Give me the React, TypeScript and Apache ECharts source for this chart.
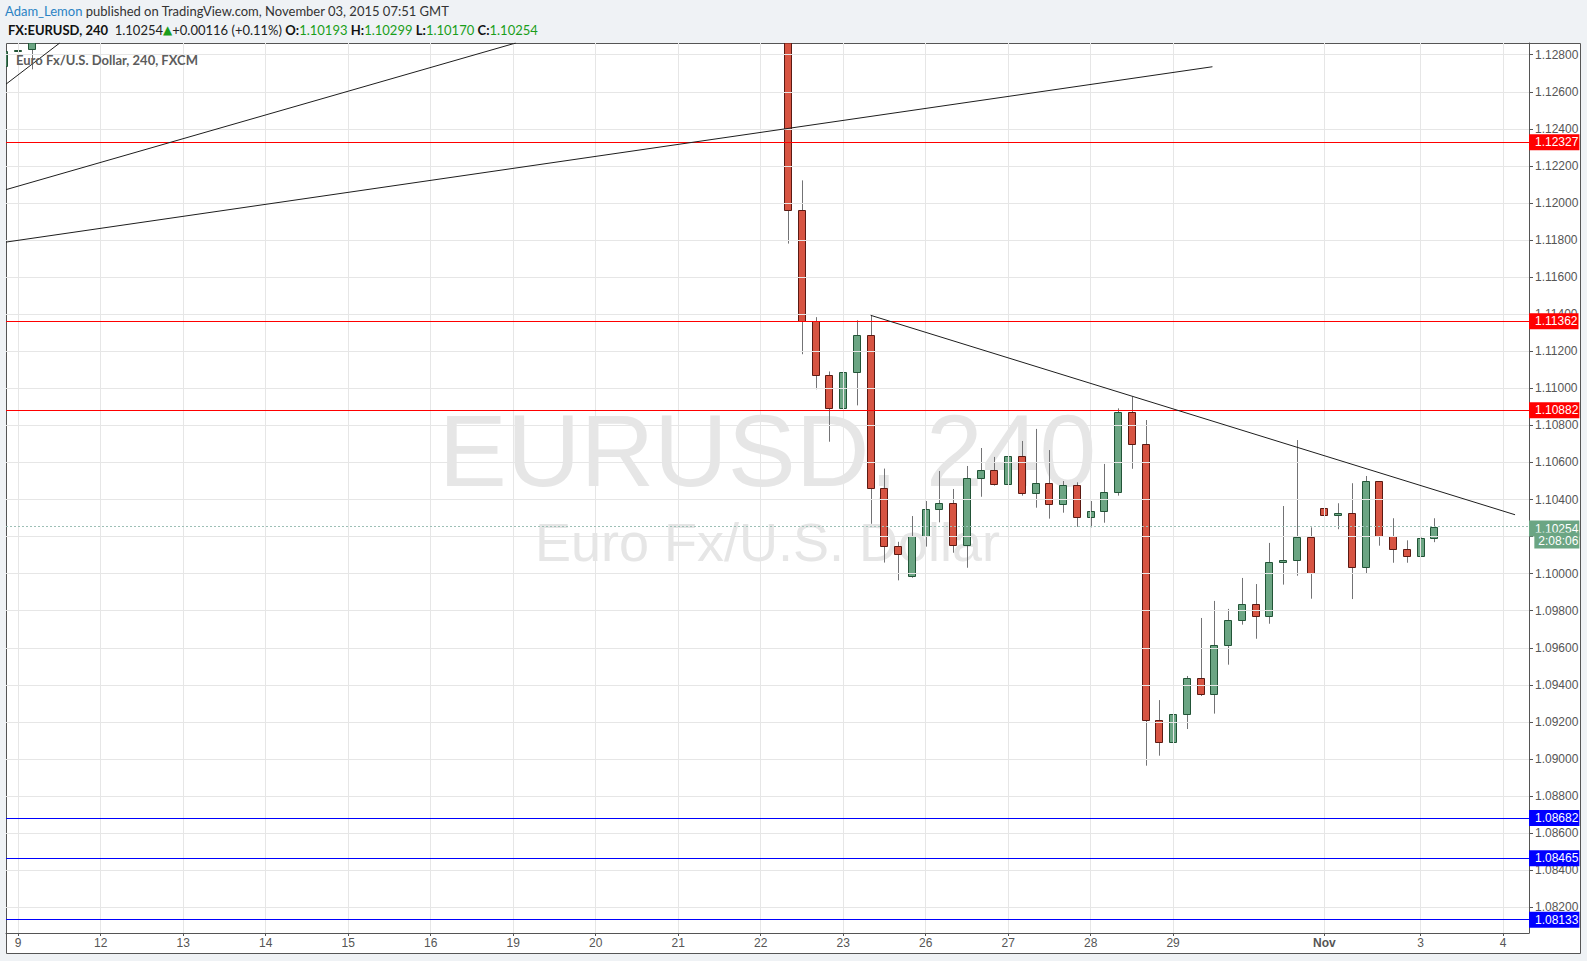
import React, { useEffect, useRef } from "react";
import * as echarts from "echarts";

// ---- data (bar index = 4h bar counted from the Oct 9 label) ----
const barIdx = [-1, 0, 1, 56, 57, 58, 59, 60, 61, 62, 63, 64, 65, 66, 67, 68, 69, 70, 71, 72, 73, 74, 75, 76, 77, 78, 79, 80, 81, 82, 83, 84, 85, 86, 87, 88, 89, 90, 91, 92, 93, 94, 95, 96, 97, 98, 99, 100, 101, 102, 103];
const opens = [1.12739, 1.1282, 1.12829, 1.1338, 1.1196, 1.11361, 1.11072, 1.10894, 1.11087, 1.11288, 1.10463, 1.10147, 1.09988, 1.10202, 1.10349, 1.1038, 1.10153, 1.10515, 1.10558, 1.10482, 1.10633, 1.10434, 1.10488, 1.10374, 1.10477, 1.10304, 1.10337, 1.10439, 1.10871, 1.10698, 1.09209, 1.0909, 1.09243, 1.09436, 1.09349, 1.09614, 1.09749, 1.09835, 1.0977, 1.10061, 1.10072, 1.10196, 1.10353, 1.10315, 1.10326, 1.10034, 1.10498, 1.10202, 1.10132, 1.10094, 1.10193];
const highs = [1.1283, 1.129, 1.13, 1.1345, 1.12122, 1.11384, 1.11091, 1.11191, 1.11367, 1.11394, 1.10567, 1.10172, 1.10311, 1.10392, 1.10554, 1.10457, 1.10581, 1.10678, 1.1063, 1.10689, 1.10716, 1.10781, 1.10667, 1.105, 1.10493, 1.10392, 1.10592, 1.10892, 1.10955, 1.10829, 1.09318, 1.0934, 1.09448, 1.09761, 1.09853, 1.0981, 1.09977, 1.09944, 1.10166, 1.10365, 1.10721, 1.1025, 1.10374, 1.1038, 1.10488, 1.10527, 1.10498, 1.10299, 1.1018, 1.10195, 1.10299];
const lows = [1.1272, 1.12667, 1.12721, 1.11781, 1.11184, 1.10995, 1.10712, 1.10894, 1.10908, 1.10269, 1.1006, 1.09964, 1.09978, 1.10146, 1.10277, 1.10113, 1.10032, 1.10415, 1.10475, 1.10448, 1.10421, 1.10356, 1.10297, 1.10329, 1.10253, 1.1025, 1.10275, 1.10421, 1.10566, 1.08964, 1.09018, 1.09072, 1.09162, 1.0934, 1.09245, 1.09509, 1.09725, 1.09649, 1.0973, 1.09941, 1.09989, 1.09865, 1.10173, 1.1024, 1.09863, 1.09999, 1.10151, 1.10059, 1.10059, 1.10094, 1.1017];
const closes = [1.1282, 1.12828, 1.1295, 1.1196, 1.11361, 1.11072, 1.10894, 1.11087, 1.11288, 1.10463, 1.10147, 1.10105, 1.10203, 1.10349, 1.1038, 1.10153, 1.10515, 1.10558, 1.10482, 1.10633, 1.10434, 1.10488, 1.10374, 1.10477, 1.10304, 1.10337, 1.10439, 1.10871, 1.10698, 1.09209, 1.0909, 1.09243, 1.09436, 1.09349, 1.09614, 1.09749, 1.09835, 1.0977, 1.10061, 1.10072, 1.10196, 1.10002, 1.10315, 1.10326, 1.10034, 1.10498, 1.10202, 1.10132, 1.10094, 1.10193, 1.10254];

const dayTickIdx = [0, 6, 12, 18, 24, 30, 36, 42, 48, 54, 60, 66, 72, 78, 84, 95, 102, 108];
const dayTickLabels = ["9", "12", "13", "14", "15", "16", "19", "20", "21", "22", "23", "26", "27", "28", "29", "Nov", "3", "4"];

const priceTicks = [1.082, 1.084, 1.086, 1.088, 1.09, 1.092, 1.094, 1.096, 1.098, 1.1, 1.102, 1.104, 1.106, 1.108, 1.11, 1.112, 1.114, 1.116, 1.118, 1.12, 1.122, 1.124, 1.126, 1.128];

const redLevels = [1.12327, 1.11362, 1.10882];
const blueLevels = [1.08682, 1.08465, 1.08133];
const lastPrice = 1.10254;
const countdown = "2:08:06";

// trend lines: [barIndex, price] pairs
const trendA = [[-0.887, 1.12072], [36.19, 1.128631]];
const trendB = [[-0.887, 1.12641], [3.02, 1.128631]];
const trendC = [[-0.887, 1.11789], [86.86, 1.12735]];
const trendD = [[62, 1.11394], [108.87, 1.10318]];

// visible window
const X_MIN = -0.887;
const X_MAX = 109.884;
const Y_MIN = 1.080614;
const Y_MAX = 1.128631;

const AX_FONT = 'Arial, "Liberation Sans", sans-serif';
const HDR_FONT = 'Lato, "Open Sans", sans-serif';
const UP = "#6ba583";
const DOWN = "#d75442";

export default function App() {
  const ref = useRef<HTMLDivElement>(null);
  useEffect(() => {
    const chart = echarts.init(ref.current!, null, { renderer: "svg" });
    const candleData = barIdx.map((x, k) => [x, opens[k], closes[k], lows[k], highs[k]]);

    const levelLabel = (bg: string, v: number) => ({
      show: true,
      position: "end",
      distance: 0,
      formatter: v.toFixed(5),
      color: "#fff",
      backgroundColor: bg,
      padding: [2, 1, 2, 6],
      fontSize: 12,
      lineHeight: 12,
      fontFamily: AX_FONT,
    });

    const trendSeries = (data: number[][]) => ({
      type: "line",
      data,
      z: 6,
      silent: true,
      showSymbol: false,
      symbol: "none",
      clip: true,
      lineStyle: { color: "#1e1e1e", width: 1 },
    });

    const option: any = {
      animation: false,
      backgroundColor: "#eff2f5",
      grid: { left: 6, right: 58, top: 43, bottom: 28, containLabel: false, outerBoundsMode: "none" },
      xAxis: {
        type: "value",
        min: X_MIN,
        max: X_MAX,
        axisLine: { show: true, onZero: false, lineStyle: { color: "#555", width: 1 } },
        axisTick: { show: true, length: 3, customValues: dayTickIdx, lineStyle: { color: "#555" } },
        axisLabel: {
          customValues: dayTickIdx,
          color: "#555",
          fontSize: 12,
          fontFamily: AX_FONT,
          margin: 4,
          formatter: (v: number) => {
            const k = dayTickIdx.indexOf(v);
            const s = k >= 0 ? dayTickLabels[k] : "";
            return s === "Nov" ? "{b|Nov}" : s;
          },
          rich: { b: { fontWeight: "bold", color: "#555", fontSize: 12, fontFamily: AX_FONT } },
        },
        splitLine: { show: false },
      },
      yAxis: {
        type: "value",
        position: "right",
        min: Y_MIN,
        max: Y_MAX,
        axisLine: { show: true, onZero: false, lineStyle: { color: "#555", width: 1 } },
        axisTick: { show: true, length: 4, customValues: priceTicks, lineStyle: { color: "#555" } },
        axisLabel: {
          customValues: priceTicks,
          color: "#555",
          fontSize: 12,
          fontFamily: AX_FONT,
          margin: 6,
          formatter: (v: number) => v.toFixed(5),
        },
        splitLine: { show: false },
      },
      graphic: [
        {
          type: "rect",
          z: -1,
          silent: true,
          shape: { x: 6.5, y: 43.5, width: 1574, height: 910 },
          style: { fill: "#ffffff", stroke: "#555", lineWidth: 1 },
        },
        {
          type: "text",
          z: 0,
          silent: true,
          x: 767.5,
          y: 451,
          style: {
            text: "EURUSD, 240",
            fontSize: 102,
            fontFamily: AX_FONT,
            fill: "#e6e6e6",
            align: "center",
            verticalAlign: "middle",
            textAlign: "center",
            textVerticalAlign: "middle",
          },
        },
        {
          type: "text",
          z: 0,
          silent: true,
          x: 767.5,
          y: 542,
          style: {
            text: "Euro Fx/U.S. Dollar",
            fontSize: 54,
            fontFamily: AX_FONT,
            fill: "#e6e6e6",
            align: "center",
            verticalAlign: "middle",
            textAlign: "center",
            textVerticalAlign: "middle",
          },
        },
        {
          type: "text",
          z: 20,
          silent: true,
          x: 5,
          y: 11,
          style: {
            text: "{u|Adam_Lemon} {t|published on TradingView.com, November 03, 2015 07:51 GMT}",
            verticalAlign: "middle",
            textVerticalAlign: "middle",
            fontSize: 13,
            fontFamily: HDR_FONT,
            fill: "#333",
            rich: {
              u: { fill: "#2a82c4", fontSize: 13, fontFamily: HDR_FONT },
              t: { fill: "#333", fontSize: 13, fontFamily: HDR_FONT },
            },
          },
        },
        {
          type: "text",
          z: 20,
          silent: true,
          x: 8,
          y: 29.5,
          style: {
            text:
              "{b|FX:EURUSD, 240}  {n|1.10254}{g|▲}{n|+0.00116 (+0.11%)} {b|O:}{v|1.10193} {b|H:}{v|1.10299} {b|L:}{v|1.10170} {b|C:}{v|1.10254}",
            verticalAlign: "middle",
            textVerticalAlign: "middle",
            fontSize: 13,
            fontFamily: HDR_FONT,
            fill: "#222",
            rich: {
              b: { fill: "#111", fontSize: 13, fontWeight: "bold", fontFamily: HDR_FONT },
              n: { fill: "#222", fontSize: 13, fontFamily: HDR_FONT },
              g: { fill: "#1a9e1a", fontSize: 12, fontFamily: "DejaVu Sans, sans-serif" },
              v: { fill: "#1a9e1a", fontSize: 13, fontFamily: HDR_FONT },
            },
          },
        },
        {
          type: "text",
          z: 20,
          silent: true,
          x: 16,
          y: 60,
          style: {
            text: "Euro Fx/U.S. Dollar, 240, FXCM",
            verticalAlign: "middle",
            textVerticalAlign: "middle",
            fontSize: 13,
            fontWeight: "bold",
            fontFamily: HDR_FONT,
            fill: "#5c5c5c",
          },
        },
      ],
      series: [
        {
          type: "line",
          name: "grid",
          data: [],
          z: 1,
          silent: true,
          markLine: {
            silent: true,
            animation: false,
            precision: 6,
            symbol: ["none", "none"],
            label: { show: false },
            lineStyle: { color: "#e6e6e6", width: 1, type: "solid" },
            emphasis: { disabled: true },
            data: [
              ...dayTickIdx.map((v) => ({ xAxis: v })),
              ...priceTicks.map((v) => ({ yAxis: v })),
            ],
          },
        },
        {
          type: "custom",
          name: "EURUSD",
          z: 3,
          clip: true,
          silent: true,
          data: candleData,
          encode: { x: 0, y: [1, 2, 3, 4] },
          renderItem: (params: any, api: any) => {
            const x = api.value(0);
            const o = api.value(1);
            const c = api.value(2);
            const l = api.value(3);
            const h = api.value(4);
            const pO = api.coord([x, o]);
            const pC = api.coord([x, c]);
            const pL = api.coord([x, l]);
            const pH = api.coord([x, h]);
            const cs = params.coordSys;
            const up = c >= o;
            const cx = Math.round(pO[0]) + 0.5;
            const yT = Math.round(Math.min(pO[1], pC[1])) + 0.5;
            const yB = Math.max(Math.round(Math.max(pO[1], pC[1])) + 0.5, yT + 1);
            const children: any[] = [];
            const wT = Math.max(pH[1], cs.y);
            const wB = Math.min(pL[1], cs.y + cs.height);
            if (cx >= cs.x && cx <= cs.x + cs.width && wB > wT) {
              children.push({
                type: "line",
                shape: { x1: cx, y1: wT, x2: cx, y2: wB },
                style: { stroke: "#737375", lineWidth: 1 },
              });
            }
            const body = echarts.graphic.clipRectByRect(
              { x: cx - 4, y: yT, width: 7, height: yB - yT },
              { x: cs.x, y: cs.y, width: cs.width, height: cs.height }
            );
            if (body) {
              children.push({
                type: "rect",
                shape: body,
                style: { fill: up ? UP : DOWN, stroke: up ? "#225437" : "#5b1a13", lineWidth: 1 },
              });
            }
            return { type: "group", children };
          },
        },
        {
          type: "line",
          name: "levels",
          data: [],
          z: 5,
          silent: true,
          markLine: {
            silent: true,
            animation: false,
            precision: 6,
            symbol: ["none", "none"],
            emphasis: { disabled: true },
            data: [
              ...redLevels.map((v) => ({
                yAxis: v,
                lineStyle: { color: "#ff0000", width: 1, type: "solid" },
                label: levelLabel("#ff0000", v),
              })),
              ...blueLevels.map((v) => ({
                yAxis: v,
                lineStyle: { color: "#0000ff", width: 1, type: "solid" },
                label: levelLabel("#0000ff", v),
              })),
              {
                yAxis: lastPrice,
                lineStyle: { color: "#9dbfb6", width: 1, type: [2, 2] },
                label: {
                  show: true,
                  position: "end",
                  distance: 0,
                  padding: [16, 0, 0, 0],
                  formatter: "{a|" + lastPrice.toFixed(5) + "}\n{b|" + countdown + "}",
                  rich: {
                    a: { color: "#fff", backgroundColor: UP, padding: [2, 1, 2, 6], fontSize: 12, lineHeight: 12, fontFamily: AX_FONT },
                    b: { color: "#fff", backgroundColor: UP, padding: [2, 1, 2, 4], fontSize: 12, lineHeight: 12, fontFamily: AX_FONT, align: "right" },
                  },
                },
              },
            ],
          },
        },
        trendSeries(trendA),
        trendSeries(trendB),
        trendSeries(trendC),
        trendSeries(trendD),
      ],
    };
    chart.setOption(option);
    return () => chart.dispose();
  }, []);
  return <div ref={ref} style={{ position: "absolute", left: 0, top: 0, width: 1587, height: 961 }} />;
}
